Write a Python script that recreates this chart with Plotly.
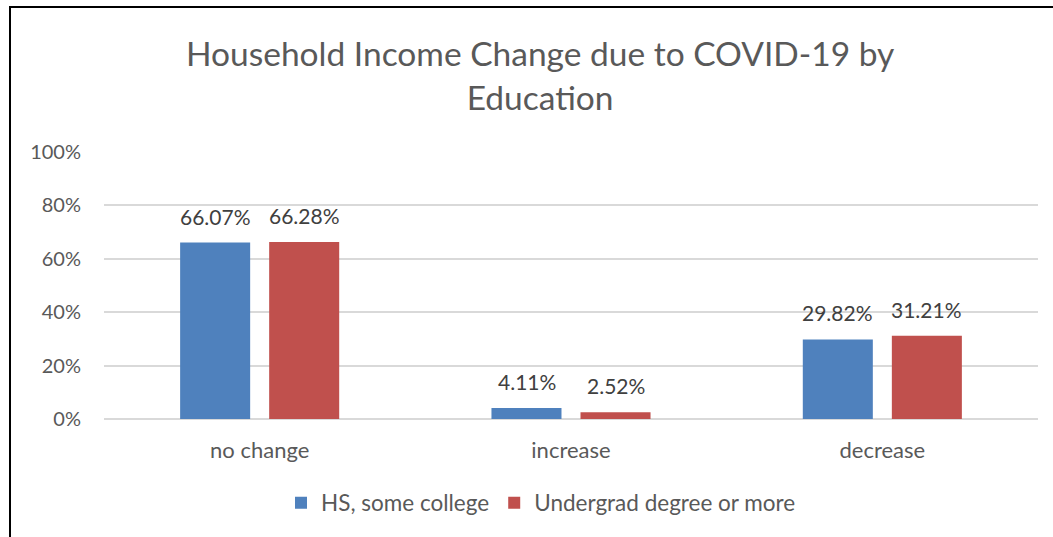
import plotly.graph_objects as go

categories = ["no change", "increase", "decrease"]
series_names = ["HS, some college", "Undergrad degree or more"]
hs_values = [0.6607, 0.0411, 0.2982]
ug_values = [0.6628, 0.0252, 0.3121]
colors = ["#4F81BD", "#C0504D"]
title_text = "Household Income Change due to COVID-19 by<br>Education"

W, H = 1053, 537
L, R, T, B = 104, 15, 152, 118
pw, ph = W - L - R, H - T - B

FONT = "Lato"
fig = go.Figure()
for name, vals, col in zip(series_names, [hs_values, ug_values], colors):
    fig.add_trace(go.Bar(
        x=categories, y=vals, name=name, marker=dict(color=col, line=dict(width=0)),
    ))

def px_x(x):
    return (x - L) / pw

def px_y(y):
    return (H - B - y) / ph

# data labels above bars
annotations = []
for i, vals in enumerate([hs_values, ug_values]):
    shift = -44.5 if i == 0 else 44.5
    for c, v in zip(categories, vals):
        annotations.append(dict(x=c, y=v, xref="x", yref="y", text=f"{v*100:.2f}%",
                                showarrow=False, xanchor="center", yanchor="bottom",
                                xshift=shift, yshift=12,
                                font=dict(family=FONT, size=21, color="#404040")))

annotations.append(dict(text=title_text, xref="paper", yref="paper", x=px_x(540), y=px_y(75),
                        xanchor="center", yanchor="middle", showarrow=False,
                        font=dict(family=FONT, size=33.5, color="#595959")))

fig.update_layout(
    width=W, height=H,
    margin=dict(l=L, r=R, t=T, b=B, autoexpand=False),
    paper_bgcolor="white", plot_bgcolor="white",
    barmode="group", bargap=0.428, bargroupgap=0.2135,
    font=dict(family=FONT, color="#595959"),
    showlegend=True,
    legend=dict(orientation="h", x=px_x(541), xanchor="center", y=px_y(503), yanchor="middle",
                font=dict(family=FONT, size=22.5, color="#595959"), itemwidth=30,
                traceorder="normal"),
    xaxis=dict(showline=False, showgrid=False, ticks="", ticklabelstandoff=16,
               tickfont=dict(family=FONT, size=22, color="#595959")),
    yaxis=dict(range=[0, 1], dtick=0.2, tickformat=".0%", showgrid=True, gridcolor="#D9D9D9",
               gridwidth=2, zeroline=True, zerolinecolor="#D9D9D9", zerolinewidth=2,
               showline=False, ticks="", ticklabelstandoff=22,
               tickfont=dict(family=FONT, size=20, color="#595959")),
    annotations=annotations,
    shapes=[dict(type="rect", xref="paper", yref="paper", x0=px_x(10), y0=px_y(600),
                 x1=px_x(1100), y1=px_y(7), line=dict(color="black", width=2),
                 fillcolor="rgba(0,0,0,0)", layer="above")],
)
fig.write_html("out.html", config={"displayModeBar": False},
               post_script="document.body.style.margin='0';document.body.style.overflow='hidden';")
